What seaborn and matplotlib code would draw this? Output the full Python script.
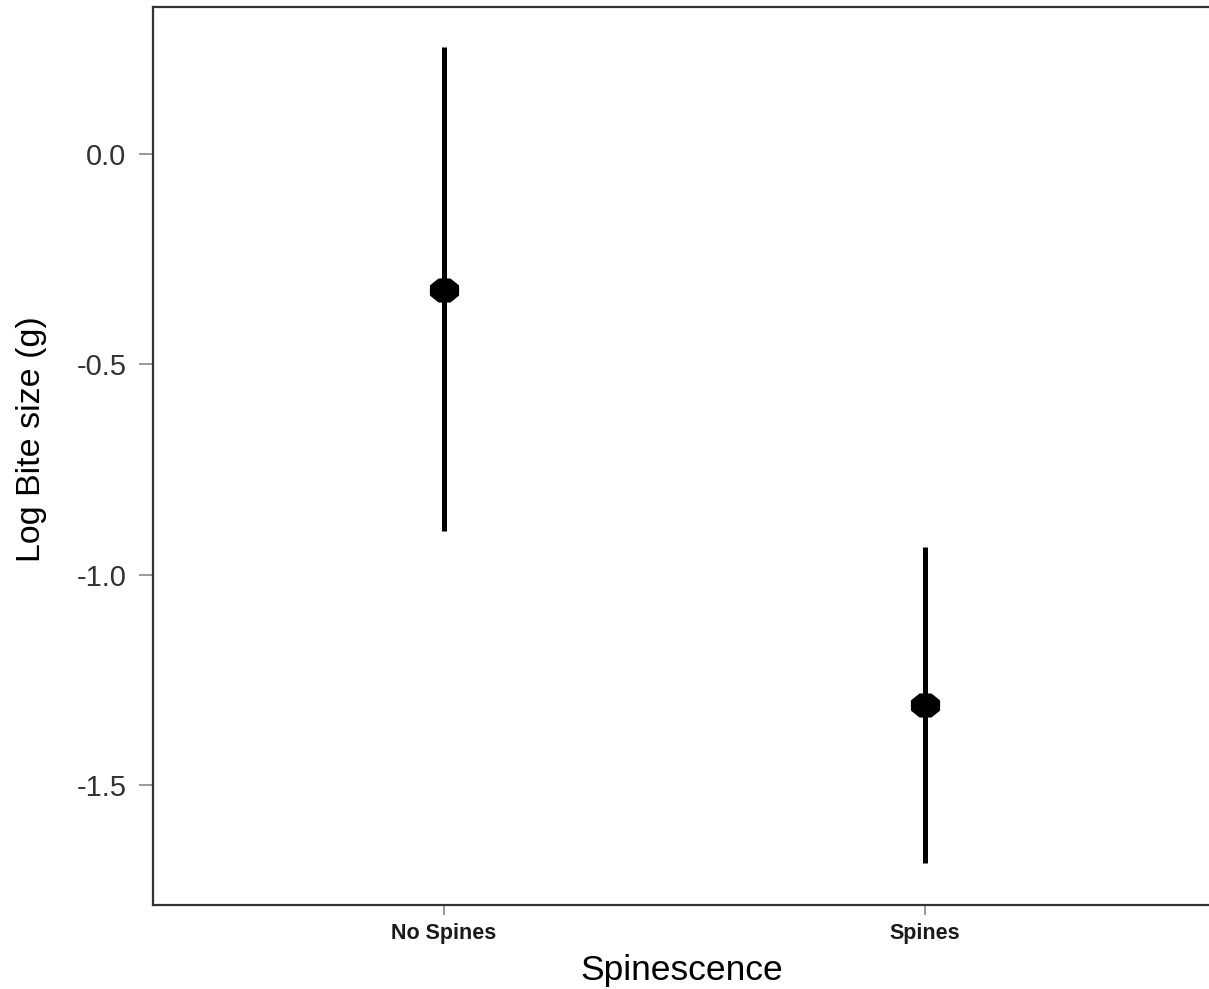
import matplotlib
matplotlib.use("Agg")
import matplotlib.pyplot as plt
from matplotlib.path import Path
import numpy as np
import seaborn as sns
import pandas as pd

categories = ["No Spines", "Spines"]
means = [-0.323, -1.309]
lower = [-0.895, -1.685]
upper = [0.254, -0.933]
yticks = [0.0, -0.5, -1.0, -1.5]
ytick_labels = ["0.0", "-0.5", "-1.0", "-1.5"]

sns.set_style("white")
plt.rcParams['font.family'] = ['Liberation Sans', 'DejaVu Sans']

df = pd.DataFrame({"Spinescence": categories, "mean": means})

# slightly wide octagon marker
ang = np.deg2rad(22.5 + 45 * np.arange(8))
verts = np.column_stack([1.24 * np.cos(ang), np.sin(ang)])
verts = np.vstack([verts, verts[:1]])
octa = Path(verts, [Path.MOVETO] + [Path.LINETO] * 7 + [Path.CLOSEPOLY])

fig = plt.figure(figsize=(12.09, 9.89), dpi=100)
ax = fig.add_axes([153/1209, 1 - 905/989, 1 - 153/1209 + 0.002, (905 - 7)/989])

ax.vlines(range(len(categories)), lower, upper, color="black", linewidth=3.6, zorder=2)
sns.pointplot(data=df, x="Spinescence", y="mean", color="black", linestyles="none",
              markers=octa, markersize=19, errorbar=None, ax=ax, zorder=3)

ax.set_xlim(-0.604, 1.596)
ax.set_ylim(-1.784, 0.349)
ax.set_yticks(yticks)
ax.set_yticklabels(ytick_labels)

for s in ["left", "bottom", "top"]:
    ax.spines[s].set_visible(True)
    ax.spines[s].set_color("#333333")
    ax.spines[s].set_linewidth(1.6)
ax.spines["right"].set_visible(False)

ax.tick_params(axis="both", which="both", direction="out", width=1.2,
               color="#888888", left=True, bottom=True)
ax.tick_params(axis="y", length=10, labelsize=21, labelcolor="#333333", pad=9)
ax.tick_params(axis="x", length=7.2, labelsize=15.5, labelcolor="#1A1A1A", pad=6)
for lab in ax.get_xticklabels():
    lab.set_fontweight("bold")

ax.set_xlabel("Spinescence", fontsize=25.5, color="black", labelpad=7)
ax.set_ylabel("Log Bite size (g)", fontsize=24.5, color="black", labelpad=21)
ax.yaxis.label.set_y(0.519)

fig.savefig("out.png", dpi=100)
